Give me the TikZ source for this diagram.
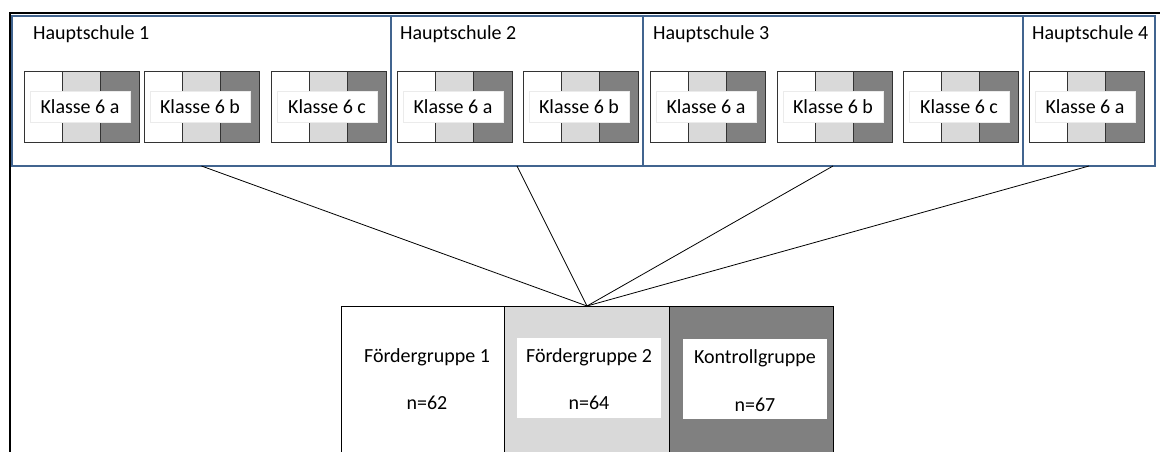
\documentclass[tikz,border=0pt]{standalone}
\usepackage{fontspec}
\setmainfont{Carlito}
\usetikzlibrary{calc}
\definecolor{hsblue}{HTML}{41648F}
\definecolor{lgray}{HTML}{D9D9D9}
\definecolor{dgray}{HTML}{808080}
\definecolor{kline}{HTML}{333333}
\definecolor{lblborder}{HTML}{EBEBEB}
\tikzset{
  hsbox/.style={draw=hsblue, line width=1.8pt, inner sep=0pt, outer sep=0pt, minimum height=150pt, anchor=north west},
  hslabel/.style={inner sep=0pt, anchor=base west, font=\fontsize{20}{23}\selectfont},
  kbox/.style={fill=white, inner sep=0pt, outer sep=0pt, minimum width=115pt, minimum height=71pt, anchor=north west},
  kdiv/.style={draw=kline, line width=1pt},
  klabel/.style={fill=white, draw=lblborder, line width=0.8pt, inner sep=0pt, minimum width=100pt, minimum height=31pt, font=\fontsize{20}{23}\selectfont},
  grpcol/.style={draw=black, line width=1pt, inner sep=0pt, outer sep=0pt, minimum height=160pt, anchor=north west},
  grpinner/.style={fill=white, inner sep=0pt, outer sep=0pt, minimum width=144pt, minimum height=80pt, anchor=north west},
  grptext/.style={inner sep=0pt, anchor=base, font=\fontsize{20}{23}\selectfont},
  conn/.style={draw=black, line width=0.8pt},
  frame/.style={draw=black, line width=1.3pt}
}
\newcommand{\klassenbox}[3]{%
  \node[kbox] (#1) at (#2,71) {};
  \fill[lgray] ($(#1.north west)!1/3!(#1.north east)$) rectangle ($(#1.south west)!2/3!(#1.south east)$);
  \fill[dgray] ($(#1.north west)!2/3!(#1.north east)$) rectangle (#1.south east);
  \draw[kdiv] ($(#1.north west)!1/3!(#1.north east)$) -- ($(#1.south west)!1/3!(#1.south east)$);
  \draw[kdiv] ($(#1.north west)!2/3!(#1.north east)$) -- ($(#1.south west)!2/3!(#1.south east)$);
  \draw[kdiv] (#1.north west) rectangle (#1.south east);
  \node[klabel] (#1-l) at ($(#1.west)+(56,0)$) {#3};
}
\begin{document}
\begin{tikzpicture}[x=1pt,y=-1pt]
\useasboundingbox (0,0) rectangle (1160,451);
\clip (0,0) rectangle (1160,451);
\fill[white] (0,0) rectangle (1160,451);

% outer frame lines
\coordinate (fr-a) at (1170,13);
\coordinate (fr-b) at (10,13);
\coordinate (fr-c) at (10,470);
\draw[frame] (fr-a) -- (fr-b) -- (fr-c);

% Hauptschulen
\node[hsbox, minimum width=379pt] (hs1) at (12,16) {};
\node[hsbox, minimum width=252pt] (hs2) at (391,16) {};
\node[hsbox, minimum width=380pt] (hs3) at (643,16) {};
\node[hsbox, minimum width=132pt] (hs4) at (1023,16) {};

\node[hslabel] (hs1-t) at (33,39) {Hauptschule 1};
\node[hslabel] (hs2-t) at (400,39) {Hauptschule 2};
\node[hslabel] (hs3-t) at (653,39) {Hauptschule 3};
\node[hslabel] (hs4-t) at (1032,39) {Hauptschule 4};

% Klassen
\klassenbox{h1a}{24}{Klasse 6 a}
\klassenbox{h1b}{144}{Klasse 6 b}
\klassenbox{h1c}{271}{Klasse 6 c}
\klassenbox{h2a}{397}{Klasse 6 a}
\klassenbox{h2b}{523}{Klasse 6 b}
\klassenbox{h3a}{650}{Klasse 6 a}
\klassenbox{h3b}{777}{Klasse 6 b}
\klassenbox{h3c}{903}{Klasse 6 c}
\klassenbox{h4a}{1029}{Klasse 6 a}

% Gruppen
\node[grpcol, fill=white, minimum width=163pt] (fg1) at (341,306) {};
\node[grpcol, fill=lgray, minimum width=165pt] (fg2) at (504,306) {};
\node[grpcol, fill=dgray, minimum width=164pt] (kg) at (669,306) {};
\node[grpinner] (fg2-box) at (517,338) {};
\node[grpinner] (kg-box) at (683,339) {};
\coordinate (grp) at ($(fg1.north west)!0.5!(kg.north east)$);

\node[grptext] (fg1-t) at (427,362) {Fördergruppe 1};
\node[grptext] (fg1-n) at (427,409) {n=62};
\node[grptext] (fg2-t) at (589,362) {Fördergruppe 2};
\node[grptext] (fg2-n) at (589,409) {n=64};
\node[grptext] (kg-t) at (755,363) {Kontrollgruppe};
\node[grptext] (kg-n) at (755,411) {n=67};

% Verbindungen
\draw[conn] (hs1.south) -- (grp);
\draw[conn] (hs2.south) -- (grp);
\draw[conn] (hs3.south) -- (grp);
\draw[conn] (hs4.south) -- (grp);
\end{tikzpicture}
\end{document}
